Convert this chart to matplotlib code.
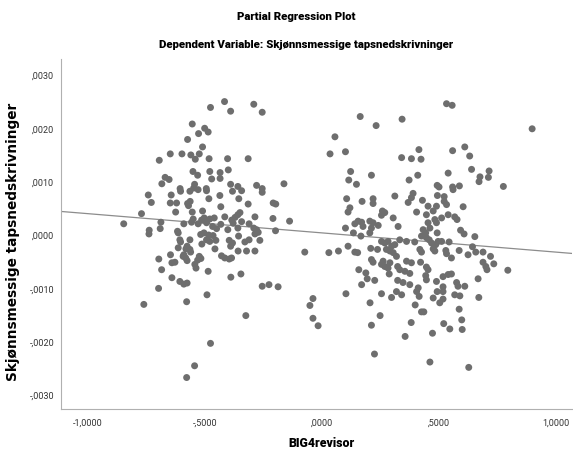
import numpy as np
import matplotlib.pyplot as plt
from matplotlib.ticker import FuncFormatter

# partial residuals: BIG4revisor (x) vs Skjønnsmessige tapsnedskrivninger (y, in 1/1000)
x_vals = [
    -0.476, -0.416, -0.390, -0.291, -0.554, -0.501, -0.527, -0.486, -0.574, -0.510,
    -0.695, -0.648, -0.598, -0.560, -0.541, -0.524, -0.482, -0.403, -0.315, -0.551,
    -0.531, -0.479, -0.471, -0.435, -0.435, -0.400, -0.670, -0.653, -0.684, -0.606,
    -0.548, -0.494, -0.390, -0.359, -0.544,
    -0.255, 0.164, 0.232, 0.056, 0.035, 0.101, 0.123, 0.115, 0.148, 0.212, -0.162, -0.279, -0.255,
    0.533, 0.557, 0.343, 0.899, 0.415, 0.559, 0.611, 0.632, 0.341, 0.383,
    0.424, 0.640, 0.540, 0.715, 0.712, 0.676, 0.672, 0.410, 0.373, 0.493,
    0.501, 0.559, 0.588, 0.776,
    -0.742, -0.729, -0.644, -0.604, -0.648, -0.621, -0.564, -0.529, -0.493, -0.483,
    -0.436, -0.432, -0.382, -0.343, -0.355, -0.315, -0.574, -0.563, -0.570, -0.625,
    -0.554, -0.771, -0.847, -0.688, -0.691, -0.738, -0.739, -0.590, -0.557, -0.550,
    -0.529, -0.514, -0.510, -0.503, -0.493, -0.479, -0.460, -0.467, -0.450, -0.432,
    -0.415, -0.385, -0.371, -0.359, -0.350, -0.379, -0.343, -0.402, -0.359, -0.311,
    -0.291, -0.614, -0.607, -0.617, -0.604, -0.564, -0.518, -0.504, -0.484, -0.493,
    -0.479, -0.513, -0.453, -0.465, -0.396, -0.382, -0.390, -0.356, -0.311, -0.329,
    -0.322, -0.358, -0.457, -0.614, -0.576, -0.564, -0.561, -0.581, -0.647, -0.593,
    -0.582, -0.576, -0.590, -0.524, -0.531, -0.517, -0.543, -0.538, -0.697, -0.641,
    -0.628, -0.429, -0.415, -0.396, -0.386, -0.685, -0.486, -0.641, -0.607, -0.590,
    -0.576, -0.389, -0.346, -0.698,
    -0.255, -0.208, -0.197, -0.286, -0.209, -0.138, -0.279, -0.272, -0.286, -0.265,
    -0.198, -0.286, -0.073, 0.030, 0.071, 0.106, 0.120, 0.112, 0.172, 0.219,
    0.219, 0.312, 0.259, 0.269, 0.255, 0.305, 0.141, 0.155, 0.170, 0.176,
    0.101, 0.135, 0.167, 0.205, 0.219, 0.212, 0.205, 0.241, 0.326, 0.112,
    0.141, 0.153, 0.209, 0.238, 0.255, 0.269, 0.283, 0.298, 0.276, 0.291,
    0.305, 0.312, 0.212, 0.219, 0.262, 0.255, 0.269, 0.291, 0.283, 0.319,
    0.324, 0.158, 0.188, 0.194, 0.226, 0.288, 0.324, 0.170, -0.226, -0.255,
    -0.187,
    0.390, 0.369, 0.383, 0.430, 0.494, 0.523, 0.523, 0.561, 0.454, 0.490,
    0.476, 0.533, 0.540, 0.512, 0.604, 0.405, 0.447, 0.483, 0.490, 0.454,
    0.462, 0.568, 0.578, 0.433, 0.444, 0.426, 0.447, 0.459, 0.469, 0.493,
    0.593, 0.608, 0.654, 0.333, 0.362, 0.397, 0.497, 0.512, 0.544, 0.487,
    0.419, 0.426, 0.476, 0.483, 0.530, 0.533, 0.587, 0.644, 0.658, 0.689,
    0.721, 0.625, 0.554, 0.362, 0.383, 0.422, 0.447, 0.454, 0.444, 0.447,
    0.333, 0.355, 0.376, 0.689, 0.701, 0.706, 0.735, 0.795, 0.518, 0.540,
    0.554, 0.490, 0.668, 0.576, 0.582, 0.611, 0.347, 0.376, 0.518, 0.412,
    -0.761, -0.578, -0.491, -0.325, -0.476, -0.544, -0.578,
    -0.038, -0.051, -0.038, -0.016, 0.103, 0.206, 0.255, 0.298, 0.249, 0.212, 0.225, 0.319,
    0.341, 0.405, 0.416, 0.493, 0.518, 0.476, 0.518, 0.504, 0.568, 0.590,
    0.671, 0.399, 0.426, 0.436, 0.587, 0.382, 0.521, 0.547, 0.598, 0.600,
    0.356, 0.473, 0.462, 0.628,
]
y_vals_milli = [
    2.40, 2.51, 2.33, 2.46, 2.09, 2.01, 1.91, 1.94, 1.80, 1.66,
    1.41, 1.53, 1.53, 1.51, 1.43, 1.53, 1.44, 1.44, 1.44, 1.20,
    1.13, 1.20, 1.06, 1.18, 1.07, 1.23, 1.09, 1.05, 0.97, 0.88,
    0.89, 0.88, 0.96, 0.92, 0.96,
    2.31, 2.23, 2.06, 1.85, 1.53, 1.57, 1.20, 1.04, 0.96, 1.13, 0.97, 0.94, 0.88,
    2.47, 2.44, 2.18, 2.00, 1.61, 1.59, 1.66, 1.49, 1.46, 1.44,
    1.43, 1.24, 1.17, 1.21, 1.09, 1.10, 1.01, 1.13, 1.04, 0.94,
    0.91, 0.91, 0.93, 0.92,
    0.76, 0.62, 0.76, 0.83, 0.61, 0.61, 0.83, 0.86, 0.84, 0.69,
    0.75, 0.54, 0.83, 0.84, 0.69, 0.59, 0.60, 0.64, 0.56, 0.44,
    0.44, 0.41, 0.22, 0.25, 0.13, 0.10, 0.03, 0.22, 0.25, 0.31,
    0.22, 0.29, 0.46, 0.33, 0.24, 0.31, 0.33, 0.17, 0.13, 0.21,
    0.35, 0.29, 0.34, 0.39, 0.43, 0.23, 0.26, 0.11, 0.14, 0.22,
    0.14, 0.05, -0.08, 0.08, -0.12, -0.08, 0.02, 0.05, 0.01, -0.08,
    -0.11, -0.16, -0.09, 0.00, -0.09, -0.14, -0.20, -0.01, -0.08, -0.12,
    -0.29, -0.29, -0.25, -0.23, -0.20, -0.26, -0.31, -0.25, -0.36, -0.39,
    -0.42, -0.47, -0.36, -0.39, -0.46, -0.43, -0.54, -0.61, -0.44, -0.51,
    -0.50, -0.38, -0.42, -0.44, -0.42, -0.64, -0.67, -0.79, -0.86, -0.91,
    -0.89, -0.78, -0.72, -0.99,
    0.81, 0.61, 0.59, 0.35, 0.32, 0.27, 0.11, 0.06, 0.03, -0.09,
    0.09, -0.29, -0.31, -0.32, -0.29, 0.69, 0.52, 0.44, 0.64, 0.69,
    0.60, 0.74, 0.46, 0.43, 0.38, 0.33, 0.22, 0.27, 0.25, 0.17,
    0.14, 0.05, -0.01, 0.27, 0.24, 0.14, 0.05, 0.19, 0.17, -0.20,
    -0.31, -0.32, -0.24, -0.26, -0.11, -0.14, -0.11, -0.20, -0.26, -0.29,
    -0.32, -0.17, -0.45, -0.50, -0.48, -0.54, -0.58, -0.51, -0.61, -0.39,
    -0.58, -0.64, -0.70, -0.81, -0.84, -0.72, -0.84, -0.92, -0.92, -0.95,
    -0.96,
    0.79, 0.62, 0.71, 0.66, 0.75, 0.73, 0.64, 0.86, 0.55, 0.55,
    0.46, 0.58, 0.39, 0.33, 0.54, 0.44, 0.39, 0.30, 0.24, 0.24,
    0.14, 0.35, 0.30, 0.11, 0.05, -0.01, -0.04, -0.08, -0.14, 0.05,
    0.10, 0.03, -0.02, -0.08, -0.11, -0.12, -0.11, -0.11, -0.12, -0.17,
    -0.26, -0.31, -0.25, -0.29, -0.28, -0.34, -0.28, -0.21, -0.31, -0.31,
    -0.39, -0.36, -0.42, -0.48, -0.51, -0.50, -0.59, -0.64, -0.75, -0.83,
    -0.64, -0.67, -0.71, -0.50, -0.58, -0.64, -0.53, -0.65, -0.77, -0.73,
    -0.72, -0.86, -0.81, -0.88, -0.95, -0.95, -0.88, -0.92, -0.96, -0.98,
    -1.29, -1.24, -1.11, -1.50, -2.02, -2.44, -2.66,
    -1.18, -1.31, -1.55, -1.69, -1.09, -1.26, -1.09, -1.16, -1.50, -1.68, -2.22, -1.05,
    -1.11, -1.05, -1.14, -1.05, -1.05, -1.17, -1.19, -1.26, -1.11, -1.13,
    -1.16, -1.30, -1.43, -1.43, -1.38, -1.63, -1.65, -1.75, -1.58, -1.76,
    -1.89, -1.83, -2.37, -2.47,
]
fit_slope = -0.00036
fit_intercept = 0.00005

x = np.array(x_vals)
y = np.array(y_vals_milli) / 1000.0

def spss_fmt(v, pos):
    s = "%.4f" % v
    s = s.replace("0.", ".", 1) if abs(v) < 1 else s
    return s.replace(".", ",")

fig = plt.figure(figsize=(5.73, 4.57), dpi=100)
ax = fig.add_axes([0.1065, 0.105, 0.892, 0.765])

ax.scatter(x, y, s=25, color="#6e6e6e", edgecolors="none", zorder=3)

xl = (-1.115, 1.07)
xx = np.array(xl)
ax.plot(xx, fit_intercept + fit_slope * xx, color="#8c8c8c", lw=0.9, zorder=2)

ax.set_xlim(xl)
ax.set_ylim(-0.00325, 0.0033)
ax.set_xticks([-1.0, -0.5, 0.0, 0.5, 1.0])
ax.set_yticks([-0.003, -0.002, -0.001, 0.0, 0.001, 0.002, 0.003])
ax.xaxis.set_major_formatter(FuncFormatter(spss_fmt))
ax.yaxis.set_major_formatter(FuncFormatter(spss_fmt))
ax.tick_params(length=0, labelsize=6.5, labelcolor="#333333")
ax.tick_params(axis="y", pad=5)
ax.tick_params(axis="x", pad=7)
for lab in ax.get_xticklabels() + ax.get_yticklabels():
    lab.set_family("Roboto")

for side in ["top", "right"]:
    ax.spines[side].set_visible(False)
for side in ["left", "bottom"]:
    ax.spines[side].set_color("#b0b0b0")
    ax.spines[side].set_linewidth(0.8)

fig.text(0.517, 0.962, "Partial Regression Plot", ha="center", va="center",
         fontsize=8.2, fontweight="black", family="Roboto")
fig.text(0.535, 0.902, "Dependent Variable: Skjønnsmessige tapsnedskrivninger", ha="center",
         va="center", fontsize=8.2, fontweight="black", family="Roboto")
ax.set_xlabel("BIG4revisor", fontsize=8.8, fontweight="black", family="Roboto")
ax.xaxis.set_label_coords(0.509, -0.08)
ax.set_ylabel("Skjønnsmessige tapsnedskrivninger", fontsize=9.8, fontweight="bold")
ax.yaxis.set_label_coords(-0.08, 0.478)

fig.savefig("out.png", dpi=100)
